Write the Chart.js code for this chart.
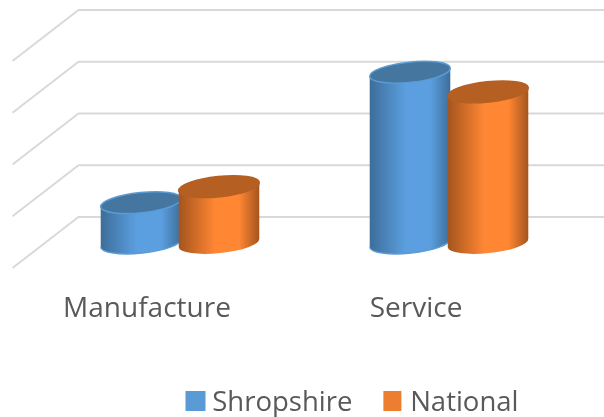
<!DOCTYPE html>
<html>
<head>
<meta charset="utf-8">
<style>
  html, body { margin: 0; background: #fff; }
  canvas { display: block; filter: blur(0.4px); }
</style>
<script src="https://cdn.jsdelivr.net/npm/chart.js@4"></script>
</head>
<body>
<canvas id="myChart" width="604" height="417"></canvas>
<script>
const categories = ["Manufacture", "Service"];
const shropshire = [7.8, 33];
const national = [10.9, 29.2];
const seriesNames = ["Shropshire", "National"];
const seriesColors = ["#5b9bd5", "#ed7d31"];

// fake 3D: how far the back wall sits from the front of the floor
const wallX = 66;
const wallY = -51;
// bars stand in the middle of the floor
const barX = 33;
const barY = -25;
const tilt = -6 * Math.PI / 180;
const flatten = 0.25;

const looks = [
  { edge: "#3d6d99", mid: "#5b9fe0", top: "#44769f", rim: "#5b9bd5", foot: "#5b9bd5" },
  { edge: "#a3541d", mid: "#ff8633", top: "#b55f23", rim: "#b55f23" },
];

function cylinder(ctx, x, yTop, yBase, rx, look) {
  const ry = rx * flatten;
  const dx = rx * Math.cos(tilt);
  const dy = rx * Math.sin(tilt);

  // body, shaded from side to side
  const g = ctx.createLinearGradient(x - rx, 0, x + rx, 0);
  g.addColorStop(0, look.edge);
  g.addColorStop(0.45, look.mid);
  g.addColorStop(0.75, look.mid);
  g.addColorStop(1, look.edge);
  ctx.beginPath();
  ctx.moveTo(x - dx, yTop - dy);
  ctx.lineTo(x - dx, yBase - dy);
  ctx.ellipse(x, yBase, rx, ry, tilt, Math.PI, 0, true);
  ctx.lineTo(x + dx, yTop + dy);
  ctx.closePath();
  ctx.fillStyle = g;
  ctx.fill();

  if (look.foot) {
    ctx.beginPath();
    ctx.ellipse(x, yBase, rx, ry, tilt, Math.PI, 0, true);
    ctx.strokeStyle = look.foot;
    ctx.lineWidth = 1.5;
    ctx.stroke();
  }

  // lid
  ctx.beginPath();
  ctx.ellipse(x, yTop, rx, ry, tilt, 0, Math.PI * 2);
  ctx.fillStyle = look.top;
  ctx.fill();
  ctx.strokeStyle = look.rim;
  ctx.lineWidth = 1.5;
  ctx.stroke();
}

const fake3d = {
  id: "fake3d",
  beforeDatasetsDraw(chart) {
    const { ctx, chartArea, scales } = chart;
    ctx.save();
    ctx.strokeStyle = "#d9d9d9";
    ctx.lineWidth = 2;
    scales.y.ticks.forEach((t) => {
      const y = scales.y.getPixelForValue(t.value);
      ctx.beginPath();
      ctx.moveTo(chartArea.left, y);
      ctx.lineTo(chartArea.left + wallX, y + wallY);
      ctx.lineTo(chartArea.right + wallX, y + wallY);
      ctx.stroke();
    });
    ctx.restore();
  },
  // the default flat bars are skipped, the cylinders replace them below
  beforeDatasetDraw() {
    return false;
  },
  afterDatasetsDraw(chart) {
    const { ctx } = chart;
    ctx.save();
    categories.forEach((c, i) => {
      chart.data.datasets.forEach((d, k) => {
        const bar = chart.getDatasetMeta(k).data[i];
        cylinder(ctx, bar.x + barX, bar.y + barY, bar.base + barY, bar.width / 2 + 1.5, looks[k]);
      });
    });
    ctx.restore();
  },
  // legend sits under the bars, not under the middle of the page
  afterLayout(chart) {
    const legend = chart.legend;
    const shift = 70.5;
    legend.left += shift;
    legend.right += shift;
    legend.legendHitBoxes.forEach((h) => { h.left += shift; });
    const down = 358 - legend.top;
    legend.top += down;
    legend.bottom += down;
  },
  // swatches are wider than the box chart.js leaves before the text
  afterDraw(chart) {
    const { ctx } = chart;
    chart.legend.legendHitBoxes.forEach((h, k) => {
      ctx.fillStyle = seriesColors[k];
      ctx.fillRect(h.left, chart.legend.top + 33, k === 0 ? 20 : 18, 20);
    });
  },
};

new Chart(document.getElementById("myChart"), {
  type: "bar",
  data: {
    labels: categories,
    datasets: [
      { label: seriesNames[0], data: shropshire, backgroundColor: "rgba(0,0,0,0)", borderWidth: 0 },
      { label: seriesNames[1], data: national, backgroundColor: "rgba(0,0,0,0)", borderWidth: 0 },
    ],
  },
  options: {
    responsive: false,
    animation: false,
    layout: { padding: { left: 12.5, right: 53.5, top: 61, bottom: 0 } },
    categoryPercentage: 0.58,
    barPercentage: 1,
    scales: {
      x: {
        grid: { display: false },
        border: { display: false },
        ticks: { color: "#595959", font: { family: "Open Sans", size: 28 }, maxRotation: 0, padding: 16 },
        afterFit(scale) { scale.height = 80.5; },
      },
      y: {
        display: false,
        min: 0,
        max: 40,
        ticks: { stepSize: 10 },
      },
    },
    plugins: {
      legend: {
        position: "bottom",
        labels: {
          color: "#595959",
          font: { family: "Open Sans", size: 27.5 },
          boxWidth: 13,
          boxHeight: 20,
          padding: 31,
        },
      },
      tooltip: { enabled: false },
    },
  },
  plugins: [fake3d],
});
</script>
</body>
</html>
